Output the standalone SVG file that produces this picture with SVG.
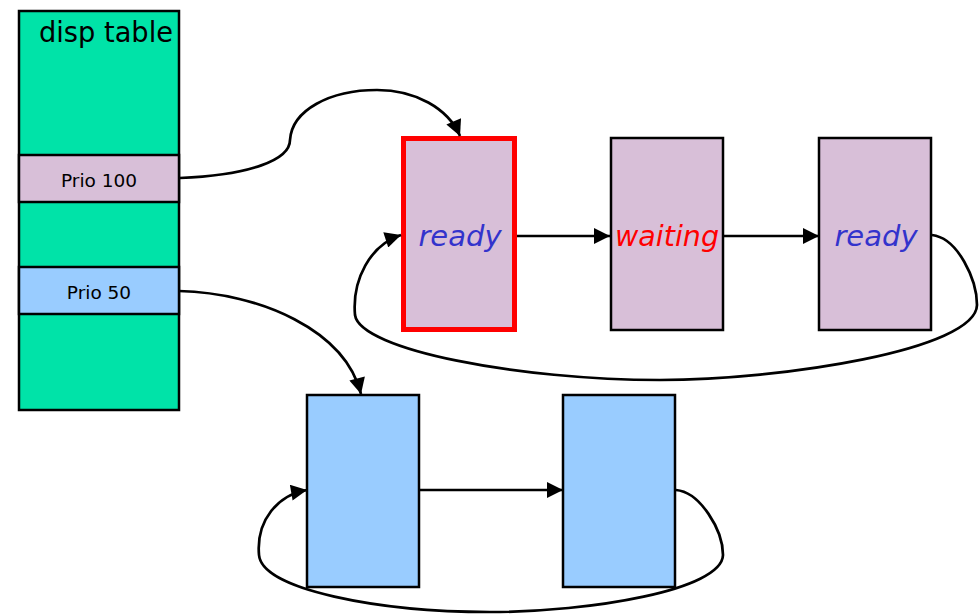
<svg xmlns="http://www.w3.org/2000/svg" width="979" height="614" viewBox="0 0 979 614">
<style>
.box{stroke:#000;stroke-width:2.5}
.pink{fill:#d8bfd8}
.blue{fill:#99ccff}
.green{fill:#00e3a8}
.lbl{font-family:"DejaVu Sans",Verdana,sans-serif;font-size:18.5px;text-anchor:middle;fill:#000}
.st{font-family:"DejaVu Sans",Verdana,sans-serif;font-size:29px;font-style:italic;text-anchor:middle}
.c{fill:none;stroke:#000;stroke-width:2.7}
</style>
<defs>
<marker id="ah" viewBox="0 0 10 10" refX="10" refY="5" markerWidth="19" markerHeight="16" markerUnits="userSpaceOnUse" orient="auto">
<path d="M0,0 L10,5 L0,10 z" fill="#000"/>
</marker>
</defs>
<rect width="979" height="614" fill="#fff"/>
<g id="disp-table">
<rect class="box green" x="19" y="11" width="160" height="399"/>
<text x="39" y="42" font-family="DejaVu Sans,Verdana,sans-serif" font-size="29" fill="#000" textLength="134" lengthAdjust="spacingAndGlyphs">disp table</text>
</g>
<g id="prio100">
<rect class="box pink" x="19" y="155" width="160" height="47"/>
<text class="lbl" x="99" y="187">Prio 100</text>
</g>
<g id="prio50">
<rect class="box blue" x="19" y="267" width="160" height="47"/>
<text class="lbl" x="99" y="299">Prio 50</text>
</g>
<g id="ready1">
<rect x="403.5" y="138.5" width="111" height="191" fill="#d8bfd8" stroke="#ff0000" stroke-width="5"/>
<text class="st" x="460" y="246" fill="#3333cc">ready</text>
</g>
<g id="waiting">
<rect class="box pink" x="611" y="138" width="112" height="192"/>
<text class="st" x="667" y="246" fill="#ff0000" textLength="104" lengthAdjust="spacingAndGlyphs">waiting</text>
</g>
<g id="ready2">
<rect class="box pink" x="819" y="138" width="112" height="192"/>
<text class="st" x="876" y="246" fill="#3333cc">ready</text>
</g>
<g id="blue1">
<rect class="box blue" x="307" y="395" width="112" height="192"/>
</g>
<g id="blue2">
<rect class="box blue" x="563" y="395" width="112" height="192"/>
</g>
<g id="connectors">
<path class="c" marker-end="url(#ah)" d="M180,178 C250,175 290,160 290,140 C292,110 330,90 377,90 C415,90 448,108 460,136"/>
<path class="c" marker-end="url(#ah)" d="M517,236 L610,236"/>
<path class="c" marker-end="url(#ah)" d="M723,236 L819,236"/>
<path class="c" marker-end="url(#ah)" d="M932,235 C958,238 977,280 977,305 C976,350 780,380 660,380 C520,380 360,350 355,315 C352,280 370,245 401,235"/>
<path class="c" marker-end="url(#ah)" d="M179,291 C260,293 345,330 361,394"/>
<path class="c" marker-end="url(#ah)" d="M419,490 L563,490"/>
<path class="c" marker-end="url(#ah)" d="M676,490 C700,492 723,530 723,555 C722,590 590,612 490,612 C380,612 262,590 259,555 C256,520 278,495 307,490"/>
</g>
</svg>
